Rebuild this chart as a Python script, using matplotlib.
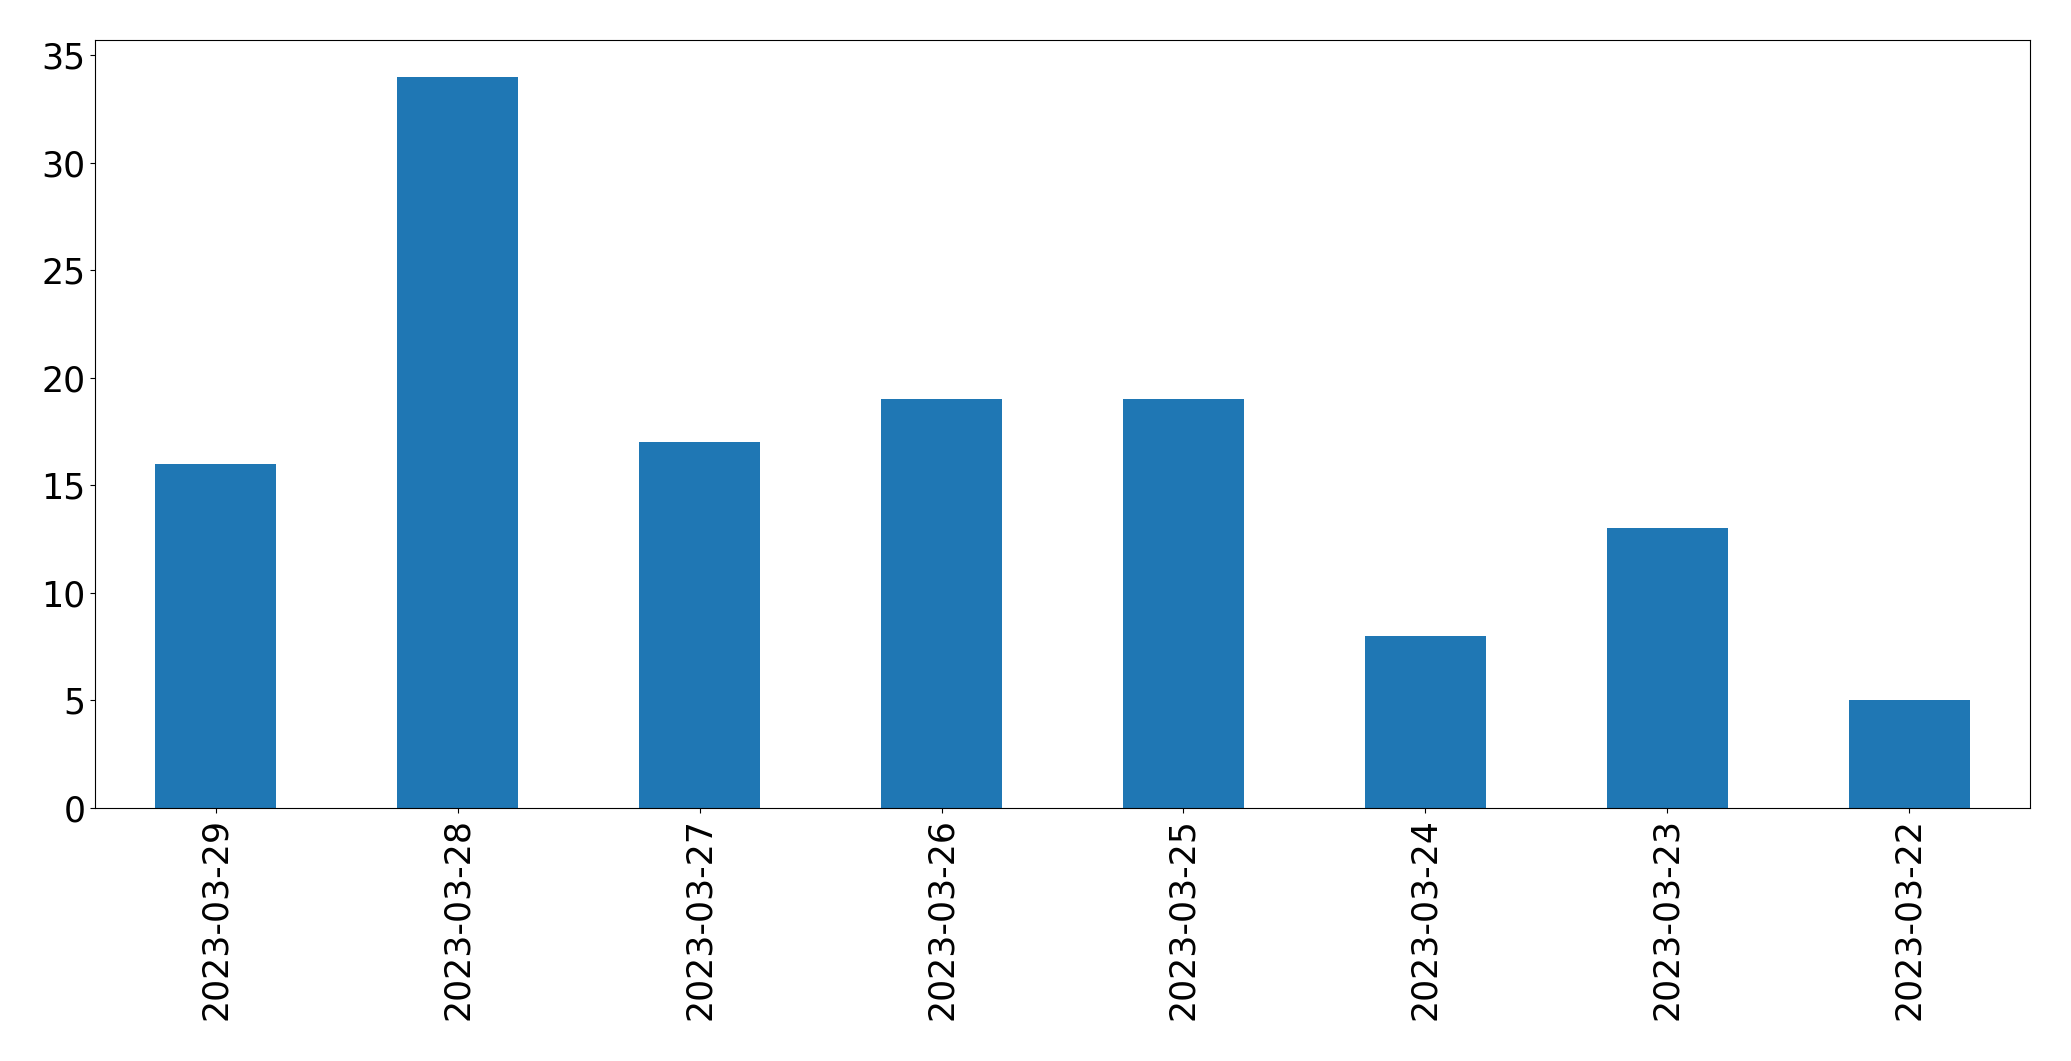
import matplotlib
matplotlib.use("Agg")
import matplotlib.pyplot as plt
import pandas as pd

dates = ["2023-03-29", "2023-03-28", "2023-03-27", "2023-03-26",
         "2023-03-25", "2023-03-24", "2023-03-23", "2023-03-22"]
counts = [16, 34, 17, 19, 19, 8, 13, 5]

plt.rcParams['font.size'] = 25

fig = plt.figure(figsize=(20.71, 10.61), dpi=100)
ax = fig.add_axes([95 / 2071, 253 / 1061, 1935 / 2071, 768 / 1061])

s = pd.Series(counts, index=dates)
s.plot(kind='bar', ax=ax, color='#1f77b4')
ax.tick_params(axis='both', labelsize=25)

fig.savefig('out.png', dpi=100)
